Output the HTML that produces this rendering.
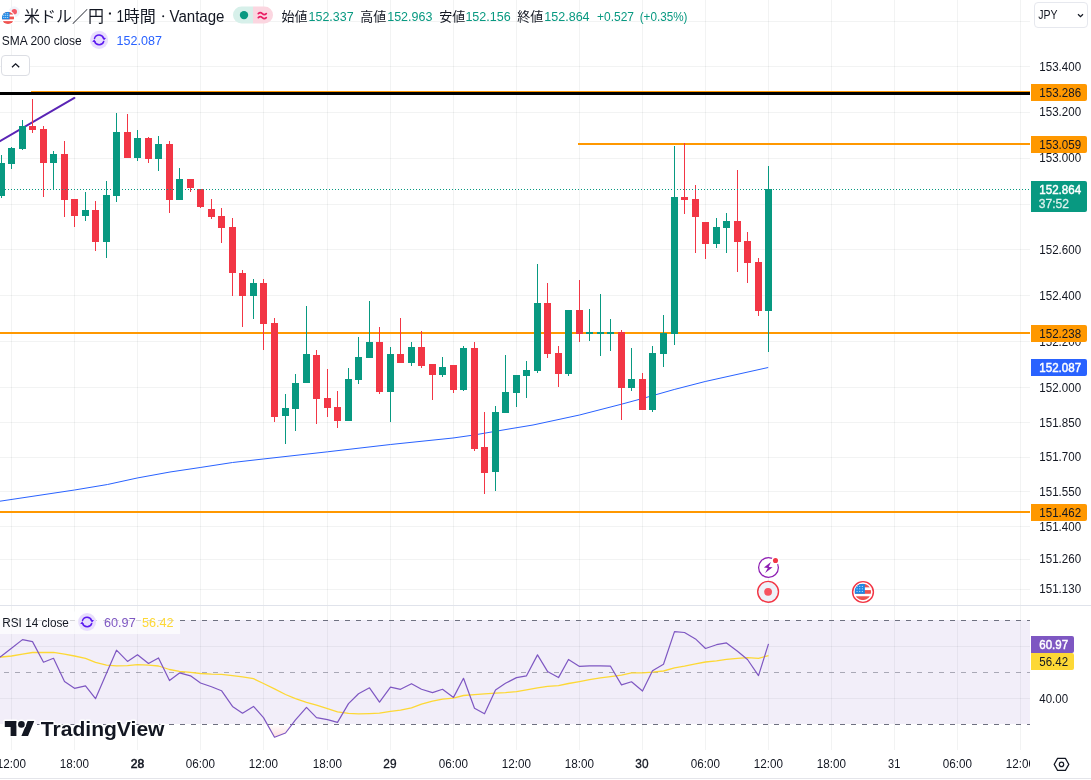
<!DOCTYPE html><html><head><meta charset="utf-8"><title>USDJPY</title><style>html,body{margin:0;padding:0;background:#fff;overflow:hidden}body{width:1091px;height:780px}</style></head><body><svg width="1091" height="780" viewBox="0 0 1091 780" font-family='"Liberation Sans", sans-serif' style="display:block;will-change:transform">
<rect width="1091" height="780" fill="#fff"/>
<path d="M11.5 0V750M74.5 0V750M137.5 0V750M200.5 0V750M263.5 0V750M327.5 0V750M390.5 0V750M453.5 0V750M516.5 0V750M579.5 0V750M642.5 0V750M705.5 0V750M768.5 0V750M831.5 0V750M894.5 0V750M957.5 0V750M1020.5 0V750" stroke="#2a2e39" stroke-opacity="0.06" stroke-width="1" fill="none" shape-rendering="crispEdges"/>
<path d="M0 21.5H1030M0 66.5H1030M0 112.5H1030M0 158.5H1030M0 204.5H1030M0 249.5H1030M0 295.5H1030M0 341.5H1030M0 387.5H1030M0 422.5H1030M0 457.5H1030M0 491.5H1030M0 526.5H1030M0 559.5H1030M0 589.5H1030M0 646.5H1030M0 698.5H1030" stroke="#2a2e39" stroke-opacity="0.06" stroke-width="1" fill="none" shape-rendering="crispEdges"/>
<rect x="0" y="605" width="1091" height="1" fill="#e0e3eb"/>
<rect x="0" y="778" width="1091" height="1" fill="#e4e5ea"/>
<rect x="31" y="91" width="999" height="2" fill="#ff9800"/>
<rect x="0" y="92" width="1030" height="3" fill="#000"/>
<rect x="578" y="143" width="452" height="2" fill="#ff9800"/>
<rect x="0" y="332" width="1030" height="2" fill="#ff9800"/>
<rect x="0" y="511" width="1030" height="2" fill="#ff9800"/>
<path d="M-2 142.3L74.4 97.95" stroke="#5a24b5" stroke-width="2" stroke-linecap="round" fill="none"/>
<polyline points="0.0,501.2 74.5,490.0 107.5,484.5 137.2,478.0 170.0,472.0 200.2,467.5 232.5,462.5 263.2,459.0 327.5,451.8 390.5,444.5 453.0,438.0 474.0,435.0 510.0,428.8 533.0,425.0 579.5,415.0 621.5,404.2 642.5,398.5 674.2,389.5 705.2,381.5 768.2,367.5" fill="none" stroke="#2962ff" stroke-width="1" stroke-linejoin="round"/>
<path d="M1 155h1V198h-1zM-2 163h7V196h-7zM11 147h1V169h-1zM8 148h7V164h-7zM22 120h1V150h-1zM19 126h7V149h-7zM53 151h1V190h-1zM50 154h7V163h-7zM85 192h1V221h-1zM82 210h7V216h-7zM106 181h1V258h-1zM103 195h7V242h-7zM116 113h1V202h-1zM113 132h7V196h-7zM137 130h1V161h-1zM134 138h7V158h-7zM158 136h1V171h-1zM155 144h7V159h-7zM179 168h1V200h-1zM176 179h7V200h-7zM253 279h1V319h-1zM250 283h7V296h-7zM285 394h1V444h-1zM282 408h7V416h-7zM295 374h1V431h-1zM292 383h7V409h-7zM306 306h1V383h-1zM303 354h7V383h-7zM348 368h1V421h-1zM345 379h7V421h-7zM358 337h1V384h-1zM355 357h7V380h-7zM369 301h1V358h-1zM366 342h7V358h-7zM390 347h1V422h-1zM387 354h7V392h-7zM411 342h1V366h-1zM408 347h7V363h-7zM442 357h1V377h-1zM439 367h7V375h-7zM463 346h1V391h-1zM460 348h7V390h-7zM495 406h1V491h-1zM492 412h7V472h-7zM505 355h1V413h-1zM502 392h7V413h-7zM516 375h1V407h-1zM513 375h7V393h-7zM526 361h1V398h-1zM523 370h7V376h-7zM537 264h1V373h-1zM534 303h7V371h-7zM568 310h1V376h-1zM565 310h7V374h-7zM589 309h1V341h-1zM586 332h7V334h-7zM600 294h1V356h-1zM597 332h7V334h-7zM610 319h1V351h-1zM607 332h7V334h-7zM631 348h1V391h-1zM628 379h7V388h-7zM652 346h1V412h-1zM649 353h7V410h-7zM663 315h1V367h-1zM660 333h7V354h-7zM674 146h1V345h-1zM671 197h7V334h-7zM716 218h1V248h-1zM713 227h7V244h-7zM726 213h1V253h-1zM723 221h7V228h-7zM768 166h1V352h-1zM765 189h7V311h-7z" fill="#089981" shape-rendering="crispEdges"/>
<path d="M32 99h1V133h-1zM29 126h7V130h-7zM43 126h1V197h-1zM40 129h7V163h-7zM64 141h1V217h-1zM61 154h7V200h-7zM74 199h1V227h-1zM71 199h7V216h-7zM95 201h1V251h-1zM92 210h7V242h-7zM127 114h1V158h-1zM124 132h7V158h-7zM148 137h1V163h-1zM145 138h7V159h-7zM169 141h1V213h-1zM166 144h7V200h-7zM190 179h1V192h-1zM187 179h7V188h-7zM200 189h1V208h-1zM197 189h7V207h-7zM211 199h1V219h-1zM208 209h7V217h-7zM221 208h1V243h-1zM218 216h7V228h-7zM232 218h1V296h-1zM229 227h7V273h-7zM242 270h1V327h-1zM239 273h7V296h-7zM263 279h1V350h-1zM260 283h7V324h-7zM274 318h1V422h-1zM271 323h7V417h-7zM316 350h1V424h-1zM313 355h7V399h-7zM327 369h1V417h-1zM324 398h7V408h-7zM337 391h1V428h-1zM334 407h7V421h-7zM379 327h1V394h-1zM376 342h7V392h-7zM400 318h1V363h-1zM397 354h7V363h-7zM421 331h1V368h-1zM418 347h7V366h-7zM432 364h1V400h-1zM429 364h7V375h-7zM453 365h1V393h-1zM450 365h7V390h-7zM474 342h1V451h-1zM471 348h7V449h-7zM484 412h1V494h-1zM481 447h7V473h-7zM547 283h1V358h-1zM544 303h7V354h-7zM558 346h1V387h-1zM555 353h7V374h-7zM579 280h1V342h-1zM576 310h7V334h-7zM621 330h1V420h-1zM618 332h7V388h-7zM642 373h1V410h-1zM639 379h7V410h-7zM684 143h1V214h-1zM681 197h7V200h-7zM695 185h1V253h-1zM692 199h7V217h-7zM705 222h1V259h-1zM702 222h7V244h-7zM737 170h1V272h-1zM734 221h7V242h-7zM747 232h1V283h-1zM744 241h7V263h-7zM758 258h1V316h-1zM755 262h7V311h-7z" fill="#f23645" shape-rendering="crispEdges"/>
<path d="M2 189.5H1030" stroke="#089981" stroke-width="1" stroke-dasharray="1 2" fill="none" shape-rendering="crispEdges"/>
<text x="1039.3" y="71.05" font-size="12" fill="#131722" textLength="41.8" lengthAdjust="spacingAndGlyphs">153.400</text>
<text x="1039.3" y="116.3" font-size="12" fill="#131722" textLength="41.8" lengthAdjust="spacingAndGlyphs">153.200</text>
<text x="1039.3" y="162.3" font-size="12" fill="#131722" textLength="41.8" lengthAdjust="spacingAndGlyphs">153.000</text>
<text x="1039.3" y="253.8" font-size="12" fill="#131722" textLength="41.8" lengthAdjust="spacingAndGlyphs">152.600</text>
<text x="1039.3" y="300.05" font-size="12" fill="#131722" textLength="41.8" lengthAdjust="spacingAndGlyphs">152.400</text>
<text x="1039.3" y="345.8" font-size="12" fill="#131722" textLength="41.8" lengthAdjust="spacingAndGlyphs">152.200</text>
<text x="1039.3" y="392.3" font-size="12" fill="#131722" textLength="41.8" lengthAdjust="spacingAndGlyphs">152.000</text>
<text x="1039.3" y="426.8" font-size="12" fill="#131722" textLength="41.8" lengthAdjust="spacingAndGlyphs">151.850</text>
<text x="1039.3" y="461.05" font-size="12" fill="#131722" textLength="41.8" lengthAdjust="spacingAndGlyphs">151.700</text>
<text x="1039.3" y="495.8" font-size="12" fill="#131722" textLength="41.8" lengthAdjust="spacingAndGlyphs">151.550</text>
<text x="1039.3" y="530.8" font-size="12" fill="#131722" textLength="41.8" lengthAdjust="spacingAndGlyphs">151.400</text>
<text x="1039.3" y="563.05" font-size="12" fill="#131722" textLength="41.8" lengthAdjust="spacingAndGlyphs">151.260</text>
<text x="1039.3" y="592.8" font-size="12" fill="#131722" textLength="41.8" lengthAdjust="spacingAndGlyphs">151.130</text>
<path d="M1031 84H1085a2 2 0 0 1 2 2V99a2 2 0 0 1 -2 2H1031Z" fill="#ff9800"/>
<text x="1039.3" y="96.8" font-size="12" fill="#131722" textLength="41.8" lengthAdjust="spacingAndGlyphs">153.286</text>
<path d="M1031 136H1085a2 2 0 0 1 2 2V151a2 2 0 0 1 -2 2H1031Z" fill="#ff9800"/>
<text x="1039.3" y="148.8" font-size="12" fill="#131722" textLength="41.8" lengthAdjust="spacingAndGlyphs">153.059</text>
<path d="M1031 325H1085a2 2 0 0 1 2 2V340a2 2 0 0 1 -2 2H1031Z" fill="#ff9800"/>
<text x="1039.3" y="337.8" font-size="12" fill="#131722" textLength="41.8" lengthAdjust="spacingAndGlyphs">152.238</text>
<path d="M1031 504H1085a2 2 0 0 1 2 2V519a2 2 0 0 1 -2 2H1031Z" fill="#ff9800"/>
<text x="1039.3" y="516.8" font-size="12" fill="#131722" textLength="41.8" lengthAdjust="spacingAndGlyphs">151.462</text>
<path d="M1031 359H1085a2 2 0 0 1 2 2V374a2 2 0 0 1 -2 2H1031Z" fill="#2962ff"/>
<text x="1039.3" y="371.8" font-size="12" fill="#fff" textLength="41.8" lengthAdjust="spacingAndGlyphs" stroke="#fff" stroke-width="0.45">152.087</text>
<path d="M1031 181H1085a2 2 0 0 1 2 2V210a2 2 0 0 1 -2 2H1031Z" fill="#089981"/>
<text x="1039.3" y="193.9" font-size="12" fill="#fff" textLength="41.8" lengthAdjust="spacingAndGlyphs" stroke="#fff" stroke-width="0.45">152.864</text>
<text x="1038.8" y="207.7" font-size="12" fill="#fff" textLength="30.2" lengthAdjust="spacingAndGlyphs" fill-opacity="0.8" stroke="#fff" stroke-opacity="0.8" stroke-width="0.3">37:52</text>
<rect x="0" y="620" width="1030" height="104" fill="#7e57c2" fill-opacity="0.1"/>
<defs><linearGradient id="os" x1="0" y1="0" x2="0" y2="1"><stop offset="0" stop-color="#f23645" stop-opacity="0"/><stop offset="1" stop-color="#f23645" stop-opacity="0.18"/></linearGradient></defs>
<polygon points="267.4,724.5 274.5,737.2 285.5,733.0 292.0,724.5" fill="url(#os)"/>
<path d="M-7 620.5H1030M-7 724.5H1030" stroke="#6e7080" stroke-width="1" stroke-dasharray="5 6" fill="none" shape-rendering="crispEdges"/>
<path d="M-7 672.5H1030" stroke="#6e7080" stroke-opacity="0.55" stroke-width="1" stroke-dasharray="5 6" fill="none" shape-rendering="crispEdges"/>
<polyline points="-9,658 1.5,657.0 11.5,656.0 22.5,654.1 32.5,652.5 43.5,652.5 53.5,652.4 64.5,654.1 74.5,656.0 85.5,658.3 95.5,662.4 106.5,665.1 116.5,665.8 127.5,665.6 137.5,664.7 148.5,665.2 158.5,666.0 169.5,669.5 179.5,671.4 190.5,672.4 200.5,673.5 211.5,674.1 221.5,674.3 232.5,675.6 242.5,676.8 253.5,678.7 263.5,683.5 274.5,688.9 285.5,694.5 295.5,698.7 306.5,702.4 316.5,705.1 327.5,708.6 337.5,711.8 348.5,713.4 358.5,713.8 369.5,713.6 379.5,713.2 390.5,711.3 400.5,710.1 411.5,707.8 421.5,704.1 432.5,701.2 442.5,699.1 453.5,698.2 463.5,695.5 474.5,694.7 484.5,693.9 495.5,693.2 505.5,692.6 516.5,691.6 526.5,689.9 537.5,687.8 547.5,686.4 558.5,685.7 568.5,683.5 579.5,681.6 589.5,679.7 600.5,677.8 610.5,676.6 621.5,675.1 631.5,672.9 642.5,672.9 652.5,672.2 663.5,671.0 674.5,667.9 684.5,666.2 695.5,663.9 705.5,662.0 716.5,660.8 726.5,659.3 737.5,658.3 747.5,657.7 758.5,658.3 768.5,655.6" fill="none" stroke="#fdd835" stroke-width="1.3" stroke-linejoin="round"/>
<polyline points="-9,663.7 1.5,656.0 11.5,648.3 22.5,639.6 32.5,641.6 43.5,662.2 53.5,658.3 64.5,681.4 74.5,688.3 85.5,685.8 95.5,698.7 106.5,673.3 116.5,650.2 127.5,661.4 137.5,654.7 148.5,663.5 158.5,657.9 169.5,680.6 179.5,672.9 190.5,675.8 200.5,683.0 211.5,686.8 221.5,690.7 232.5,706.4 242.5,713.2 253.5,706.4 263.5,717.6 274.5,737.2 285.5,733.0 295.5,719.9 306.5,707.4 316.5,717.6 327.5,719.7 337.5,722.4 348.5,703.6 358.5,693.7 369.5,687.8 379.5,702.2 390.5,687.2 400.5,689.3 411.5,683.7 421.5,689.3 432.5,692.6 442.5,689.3 453.5,697.4 463.5,678.3 474.5,708.2 484.5,713.8 495.5,689.9 505.5,683.3 516.5,677.6 526.5,675.8 537.5,654.9 547.5,671.4 558.5,677.6 568.5,659.5 579.5,666.4 589.5,665.8 600.5,665.8 610.5,666.2 621.5,684.9 631.5,681.8 642.5,691.0 652.5,670.8 663.5,664.3 674.5,631.6 684.5,632.5 695.5,638.9 705.5,648.5 716.5,644.7 726.5,642.9 737.5,651.2 747.5,659.5 758.5,675.6 768.5,643.9" fill="none" stroke="#7e57c2" stroke-width="1.2" stroke-linejoin="round"/>
<path d="M1031 636H1072a2 2 0 0 1 2 2V651a2 2 0 0 1 -2 2H1031Z" fill="#7e57c2"/>
<path d="M1031 653H1072a2 2 0 0 1 2 2V668a2 2 0 0 1 -2 2H1031Z" fill="#fdd835"/>
<text x="1039.3" y="648.8" font-size="12" fill="#fff" textLength="28.8" lengthAdjust="spacingAndGlyphs" stroke="#fff" stroke-width="0.45">60.97</text>
<text x="1039.3" y="665.8" font-size="12" fill="#131722" textLength="28.8" lengthAdjust="spacingAndGlyphs">56.42</text>
<text x="1039.3" y="703.2" font-size="12" fill="#131722" textLength="28.8" lengthAdjust="spacingAndGlyphs">40.00</text>
<rect x="0" y="611.5" width="180" height="22.5" fill="#fff" fill-opacity="0.7"/>
<text x="2.3" y="626.7" font-size="12" fill="#131722" textLength="66.6" lengthAdjust="spacingAndGlyphs">RSI 14 close</text>
<circle cx="87.1" cy="622.0" r="9" fill="#e8defd"/>
<g transform="translate(87.1 622.0)"><g fill="none" stroke="#5b1af0" stroke-width="1.5" stroke-linecap="round"><path d="M-4.6 -1.5A4.8 4.8 0 0 1 4.5 -1.6"/><path d="M4.6 1.5A4.8 4.8 0 0 1 -4.5 1.6"/></g><path d="M3 -2.4L6.9 -1.8L4.9 0.4ZM-3 2.4L-6.9 1.8L-4.9 -0.4Z" fill="#5b1af0"/></g>
<text x="104" y="626.7" font-size="12" fill="#7e57c2" textLength="31.7" lengthAdjust="spacingAndGlyphs">60.97</text>
<text x="142" y="626.7" font-size="12" fill="#fdd835" textLength="31.6" lengthAdjust="spacingAndGlyphs">56.42</text>
<clipPath id="tc"><rect x="0" y="750" width="1030" height="30"/></clipPath><g clip-path="url(#tc)">
<text x="11.4" y="768" font-size="12" fill="#131722" text-anchor="middle" textLength="29.2" lengthAdjust="spacingAndGlyphs">12:00</text>
<text x="74.4" y="768" font-size="12" fill="#131722" text-anchor="middle" textLength="29.2" lengthAdjust="spacingAndGlyphs">18:00</text>
<text x="137.4" y="768" font-size="12" fill="#131722" text-anchor="middle" textLength="13.4" lengthAdjust="spacingAndGlyphs" stroke="#131722" stroke-width="0.6">28</text>
<text x="200.4" y="768" font-size="12" fill="#131722" text-anchor="middle" textLength="29.2" lengthAdjust="spacingAndGlyphs">06:00</text>
<text x="263.4" y="768" font-size="12" fill="#131722" text-anchor="middle" textLength="29.2" lengthAdjust="spacingAndGlyphs">12:00</text>
<text x="327.4" y="768" font-size="12" fill="#131722" text-anchor="middle" textLength="29.2" lengthAdjust="spacingAndGlyphs">18:00</text>
<text x="389.9" y="768" font-size="12" fill="#131722" text-anchor="middle" textLength="13.2" lengthAdjust="spacingAndGlyphs" stroke="#131722" stroke-width="0.3">29</text>
<text x="453.4" y="768" font-size="12" fill="#131722" text-anchor="middle" textLength="29.2" lengthAdjust="spacingAndGlyphs">06:00</text>
<text x="516.4" y="768" font-size="12" fill="#131722" text-anchor="middle" textLength="29.2" lengthAdjust="spacingAndGlyphs">12:00</text>
<text x="579.4" y="768" font-size="12" fill="#131722" text-anchor="middle" textLength="29.2" lengthAdjust="spacingAndGlyphs">18:00</text>
<text x="641.9" y="768" font-size="12" fill="#131722" text-anchor="middle" textLength="13.2" lengthAdjust="spacingAndGlyphs" stroke="#131722" stroke-width="0.3">30</text>
<text x="705.4" y="768" font-size="12" fill="#131722" text-anchor="middle" textLength="29.2" lengthAdjust="spacingAndGlyphs">06:00</text>
<text x="768.4" y="768" font-size="12" fill="#131722" text-anchor="middle" textLength="29.2" lengthAdjust="spacingAndGlyphs">12:00</text>
<text x="831.4" y="768" font-size="12" fill="#131722" text-anchor="middle" textLength="29.2" lengthAdjust="spacingAndGlyphs">18:00</text>
<text x="894.2" y="768" font-size="12" fill="#131722" text-anchor="middle" textLength="12.2" lengthAdjust="spacingAndGlyphs">31</text>
<text x="957.4" y="768" font-size="12" fill="#131722" text-anchor="middle" textLength="29.2" lengthAdjust="spacingAndGlyphs">06:00</text>
<text x="1020.4" y="768" font-size="12" fill="#131722" text-anchor="middle" textLength="29.2" lengthAdjust="spacingAndGlyphs">12:00</text>
</g>
<g transform="translate(1061.5 764.4)" fill="none" stroke="#131722" stroke-width="1.2" stroke-linejoin="round"><path d="M-7.3 0L-3.9 -6H3.9L7.3 0L3.9 6H-3.9Z"/><circle r="2.2"/></g>
<g><circle cx="768.5" cy="567.5" r="9.9" fill="#fff" stroke="#8f1fb3" stroke-width="1.25"/><path d="M770.9 562L763.9 567.6L767.8 567.9L765.1 572.9L772.6 567.3L768.8 567Z" fill="#8f1fb3"/><circle cx="775.5" cy="560.5" r="4" fill="#fff"/><circle cx="775.5" cy="560.5" r="2.55" fill="#f23645"/></g>
<g><circle cx="768.1" cy="591.8" r="10.4" fill="#eef1f8" stroke="#f23645" stroke-width="1.4"/><circle cx="768.1" cy="591.8" r="3.9" fill="#f7525f"/></g>
<clipPath id="f862"><circle cx="862.8" cy="591.9" r="8.25"/></clipPath>
<g clip-path="url(#f862)"><rect x="854.55" y="583.65" width="16.5" height="16.5" fill="#fff"/>
<rect x="854.55" y="583.65" width="16.5" height="3.71" fill="#ef5350"/>
<rect x="854.55" y="590.08" width="16.5" height="3.71" fill="#ef5350"/>
<rect x="854.55" y="596.27" width="16.5" height="3.88" fill="#ef5350"/>
<rect x="854.55" y="583.65" width="10.31" height="10.15" fill="#1e88e5"/>
<rect x="856.52" y="585.92" width="1.1" height="0.9" fill="#fff" fill-opacity="0.8"/>
<rect x="856.52" y="588.40" width="1.1" height="0.9" fill="#fff" fill-opacity="0.8"/>
<rect x="856.52" y="590.95" width="1.1" height="0.9" fill="#fff" fill-opacity="0.8"/>
<rect x="859.16" y="585.92" width="1.1" height="0.9" fill="#fff" fill-opacity="0.8"/>
<rect x="859.16" y="588.40" width="1.1" height="0.9" fill="#fff" fill-opacity="0.8"/>
<rect x="859.16" y="590.95" width="1.1" height="0.9" fill="#fff" fill-opacity="0.8"/>
<rect x="861.80" y="585.92" width="1.1" height="0.9" fill="#fff" fill-opacity="0.8"/>
<rect x="861.80" y="588.40" width="1.1" height="0.9" fill="#fff" fill-opacity="0.8"/>
<rect x="861.80" y="590.95" width="1.1" height="0.9" fill="#fff" fill-opacity="0.8"/>
</g>
<circle cx="863" cy="592" r="10.4" fill="none" stroke="#f23645" stroke-width="1.45"/>
<circle cx="14.2" cy="11.9" r="5.6" fill="#f0f3fa"/><circle cx="14.3" cy="11.7" r="2.7" fill="#f45b68"/>
<circle cx="8" cy="17.9" r="7.3" fill="#fff"/>
<clipPath id="f8"><circle cx="8" cy="17.9" r="6.1"/></clipPath>
<g clip-path="url(#f8)"><rect x="1.90" y="11.80" width="12.2" height="12.2" fill="#fff"/>
<rect x="1.90" y="11.80" width="12.2" height="2.75" fill="#ef5350"/>
<rect x="1.90" y="16.56" width="12.2" height="2.74" fill="#ef5350"/>
<rect x="1.90" y="21.13" width="12.2" height="2.87" fill="#ef5350"/>
<rect x="1.90" y="11.80" width="7.62" height="7.50" fill="#1e88e5"/>
<rect x="3.23" y="13.36" width="1.1" height="0.9" fill="#fff" fill-opacity="0.8"/>
<rect x="3.23" y="15.19" width="1.1" height="0.9" fill="#fff" fill-opacity="0.8"/>
<rect x="3.23" y="17.08" width="1.1" height="0.9" fill="#fff" fill-opacity="0.8"/>
<rect x="5.18" y="13.36" width="1.1" height="0.9" fill="#fff" fill-opacity="0.8"/>
<rect x="5.18" y="15.19" width="1.1" height="0.9" fill="#fff" fill-opacity="0.8"/>
<rect x="5.18" y="17.08" width="1.1" height="0.9" fill="#fff" fill-opacity="0.8"/>
<rect x="7.13" y="13.36" width="1.1" height="0.9" fill="#fff" fill-opacity="0.8"/>
<rect x="7.13" y="15.19" width="1.1" height="0.9" fill="#fff" fill-opacity="0.8"/>
<rect x="7.13" y="17.08" width="1.1" height="0.9" fill="#fff" fill-opacity="0.8"/>
</g>
<text x="24" y="21.9" font-size="16" fill="#131722" font-family='"Liberation Sans", "Noto Sans CJK JP", sans-serif' textLength="80" lengthAdjust="spacingAndGlyphs">米ドル／円</text>
<rect x="108.9" y="12.4" width="2.1" height="2.2" rx="0.4" fill="#131722"/>
<text x="116.6" y="21.5" font-size="16" fill="#131722" textLength="7.6" lengthAdjust="spacingAndGlyphs">1</text>
<text x="123.8" y="21.9" font-size="16" fill="#131722" font-family='"Liberation Sans", "Noto Sans CJK JP", sans-serif' textLength="32" lengthAdjust="spacingAndGlyphs">時間</text>
<circle cx="163.2" cy="16.2" r="1" fill="#131722"/>
<text x="169.5" y="21.5" font-size="16" fill="#131722" textLength="55" lengthAdjust="spacingAndGlyphs">Vantage</text>
<clipPath id="pill"><rect x="233" y="6.5" width="40" height="17" rx="8.5"/></clipPath><g clip-path="url(#pill)"><rect x="233" y="6" width="20" height="18" fill="#d7f0ea"/><rect x="253" y="6" width="20" height="18" fill="#fbd6e0"/></g>
<circle cx="244" cy="15.1" r="4.2" fill="#089981"/>
<path d="M258.3 13.6q2-2 4 0t4 0M258.3 17.6q2-2 4 0t4 0" fill="none" stroke="#e91e63" stroke-width="1.7" stroke-linecap="round"/>
<text x="281.5" y="21.2" font-size="13" fill="#131722" font-family='"Liberation Sans", "Noto Sans CJK JP", sans-serif' textLength="26" lengthAdjust="spacingAndGlyphs">始値</text>
<text x="308.6" y="21" font-size="13" fill="#089981" textLength="45" lengthAdjust="spacingAndGlyphs">152.337</text>
<text x="360.3" y="21.2" font-size="13" fill="#131722" font-family='"Liberation Sans", "Noto Sans CJK JP", sans-serif' textLength="26" lengthAdjust="spacingAndGlyphs">高値</text>
<text x="387.2" y="21" font-size="13" fill="#089981" textLength="45.2" lengthAdjust="spacingAndGlyphs">152.963</text>
<text x="439.2" y="21.2" font-size="13" fill="#131722" font-family='"Liberation Sans", "Noto Sans CJK JP", sans-serif' textLength="26" lengthAdjust="spacingAndGlyphs">安値</text>
<text x="465.4" y="21" font-size="13" fill="#089981" textLength="45.4" lengthAdjust="spacingAndGlyphs">152.156</text>
<text x="517.2" y="21.2" font-size="13" fill="#131722" font-family='"Liberation Sans", "Noto Sans CJK JP", sans-serif' textLength="26" lengthAdjust="spacingAndGlyphs">終値</text>
<text x="544.3" y="21" font-size="13" fill="#089981" textLength="45.3" lengthAdjust="spacingAndGlyphs">152.864</text>
<text x="597" y="21" font-size="13" fill="#089981" textLength="37" lengthAdjust="spacingAndGlyphs">+0.527</text>
<text x="639.7" y="21" font-size="13" fill="#089981" textLength="47.8" lengthAdjust="spacingAndGlyphs">(+0.35%)</text>
<text x="1.8" y="45" font-size="13" fill="#131722" textLength="79.8" lengthAdjust="spacingAndGlyphs">SMA 200 close</text>
<circle cx="99.1" cy="39.9" r="9.1" fill="#e8defd"/>
<g transform="translate(99.1 39.9)"><g fill="none" stroke="#5b1af0" stroke-width="1.5" stroke-linecap="round"><path d="M-4.6 -1.5A4.8 4.8 0 0 1 4.5 -1.6"/><path d="M4.6 1.5A4.8 4.8 0 0 1 -4.5 1.6"/></g><path d="M3 -2.4L6.9 -1.8L4.9 0.4ZM-3 2.4L-6.9 1.8L-4.9 -0.4Z" fill="#5b1af0"/></g>
<text x="116.6" y="45" font-size="13" fill="#2962ff" textLength="45.3" lengthAdjust="spacingAndGlyphs">152.087</text>
<rect x="1.5" y="55.5" width="28" height="20" rx="3.5" fill="#fff" stroke="#dcdee4"/>
<path d="M12 67.3L15.6 63.8L19.2 67.3" fill="none" stroke="#131722" stroke-width="1.3"/>
<rect x="1034.5" y="2.5" width="53" height="25" rx="3.5" fill="#fff" stroke="#e6e8ee"/>
<text x="1038.2" y="19" font-size="12.5" fill="#131722" textLength="19.3" lengthAdjust="spacingAndGlyphs">JPY</text>
<path d="M1078 14.2L1080.5 16.7L1083 14.2" fill="none" stroke="#131722" stroke-width="1.25"/>
<g stroke="#fff" stroke-width="3" stroke-linejoin="round" paint-order="stroke" fill="#131722">
<g transform="translate(4.8 717.78) scale(0.83)"><path vector-effect="non-scaling-stroke" d="M14 22H7V11H0V4h14v18zM28 22h-8l7.5-18h8L28 22z"/><circle vector-effect="non-scaling-stroke" cx="20" cy="8" r="4"/></g>
<text x="40.8" y="735.8" font-size="20.5" font-weight="bold" textLength="123.7" lengthAdjust="spacingAndGlyphs">TradingView</text>
</g>
</svg></body></html>
